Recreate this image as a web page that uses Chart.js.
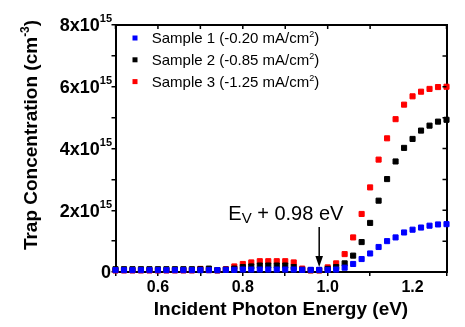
<!DOCTYPE html>
<html lang="en">
<head>
<meta charset="UTF-8">
<title>Trap Concentration vs Incident Photon Energy</title>
<script src="https://cdn.jsdelivr.net/npm/chart.js"></script>
<style>
  body { margin: 0; background: #fff; }
  #wrap { width: 465px; height: 327px; }
</style>
</head>
<body>
<div id="wrap"><canvas id="trapChart" width="465" height="327"></canvas></div>
<script>
// photon energy (eV) and trap concentration (units of 10^15 cm^-3)
const energies = [0.50, 0.52, 0.54, 0.56, 0.58, 0.60, 0.62, 0.64, 0.66, 0.68,
                  0.70, 0.72, 0.74, 0.76, 0.78, 0.80, 0.82, 0.84, 0.86, 0.88,
                  0.90, 0.92, 0.94, 0.96, 0.98, 1.00, 1.02, 1.04, 1.06, 1.08,
                  1.10, 1.12, 1.14, 1.16, 1.18, 1.20, 1.22, 1.24, 1.26, 1.28];
const sample1 = [0.06, 0.06, 0.06, 0.06, 0.06, 0.06, 0.06, 0.06, 0.06, 0.06,
                 0.06, 0.06, 0.06, 0.07, 0.07, 0.08, 0.08, 0.08, 0.08, 0.08,
                 0.08, 0.08, 0.07, 0.07, 0.07, 0.07, 0.08, 0.14, 0.26, 0.42,
                 0.60, 0.81, 1.00, 1.12, 1.28, 1.37, 1.44, 1.50, 1.54, 1.55];
const sample2 = [0.09, 0.09, 0.09, 0.09, 0.09, 0.09, 0.09, 0.09, 0.09, 0.09,
                 0.09, 0.11, 0.06, 0.08, 0.11, 0.16, 0.18, 0.21, 0.21, 0.21,
                 0.21, 0.16, 0.07, 0.06, 0.06, 0.10, 0.16, 0.28, 0.53, 0.97,
                 1.59, 2.31, 3.01, 3.58, 4.02, 4.31, 4.58, 4.74, 4.87, 4.93];
const sample3 = [0.05, 0.05, 0.05, 0.05, 0.05, 0.05, 0.05, 0.05, 0.05, 0.05,
                 0.10, 0.06, 0.05, 0.09, 0.18, 0.26, 0.31, 0.35, 0.35, 0.35,
                 0.35, 0.31, 0.11, 0.05, 0.05, 0.15, 0.28, 0.58, 1.12, 1.88,
                 2.74, 3.64, 4.33, 4.95, 5.42, 5.69, 5.84, 5.93, 5.99, 6.00];
const sampleLabels = ['Sample 1 (-0.20 mA/cm²)', 'Sample 2 (-0.85 mA/cm²)', 'Sample 3 (-1.25 mA/cm²)'];
const sampleColors = ['#0000ff', '#000000', '#ff0000'];
const yTickValues = [0, 2, 4, 6, 8];
const xTickValues = [0.6, 0.8, 1.0, 1.2];
const xTickLabels = ['0.6', '0.8', '1.0', '1.2'];
const markerEnergy = 0.98;

const FONT = '"Liberation Sans", Arial, sans-serif';

function toPoints(ys) {
  return energies.map((e, i) => ({ x: e, y: ys[i] }));
}

// text made of runs, each with its own size and vertical shift (for super/subscripts)
function runsWidth(ctx, runs, weight) {
  let w = 0;
  runs.forEach(r => {
    ctx.font = `${weight} ${r.size}px ${FONT}`;
    w += ctx.measureText(r.text).width;
  });
  return w;
}
function drawRuns(ctx, runs, x, y, weight, align) {
  const w = runsWidth(ctx, runs, weight);
  let cx = align === 'right' ? x - w : align === 'center' ? x - w / 2 : x;
  ctx.textAlign = 'left';
  ctx.textBaseline = 'alphabetic';
  runs.forEach(r => {
    ctx.font = `${weight} ${r.size}px ${FONT}`;
    ctx.fillText(r.text, cx, y + (r.dy || 0));
    cx += ctx.measureText(r.text).width;
  });
}

const decorations = {
  id: 'decorations',
  afterDraw(chart) {
    const ctx = chart.ctx;
    const xs = chart.scales.x, ys = chart.scales.y;
    const area = chart.chartArea;
    ctx.save();
    ctx.fillStyle = '#000';
    ctx.strokeStyle = '#000';

    // inward ticks on top and right frame
    ctx.lineWidth = 1.5;
    ctx.beginPath();
    xs.ticks.forEach(t => {
      const px = xs.getPixelForValue(t.value);
      ctx.moveTo(px, area.top);
      ctx.lineTo(px, area.top + 4);
    });
    ys.ticks.forEach(t => {
      const py = ys.getPixelForValue(t.value);
      ctx.moveTo(area.right, py);
      ctx.lineTo(area.right - 4, py);
    });
    ctx.stroke();

    // y tick labels: n x 10^15
    yTickValues.forEach(v => {
      const py = ys.getPixelForValue(v) + 6.4;
      if (v === 0) {
        drawRuns(ctx, [{ text: '0', size: 18 }], 111, py, 'bold', 'right');
      } else {
        drawRuns(ctx, [{ text: v + 'x10', size: 18 }, { text: '15', size: 11, dy: -9 }], 112, py, 'bold', 'right');
      }
    });

    // x tick labels
    xTickValues.forEach((v, i) => {
      drawRuns(ctx, [{ text: xTickLabels[i], size: 16 }], xs.getPixelForValue(v), 291.5, 'bold', 'center');
    });

    // axis titles
    drawRuns(ctx, [{ text: 'Incident Photon Energy (eV)', size: 19 }], (area.left + area.right) / 2, 315, 'bold', 'center');
    ctx.save();
    ctx.translate(36.7, 135);
    ctx.rotate(-Math.PI / 2);
    drawRuns(ctx, [{ text: 'Trap Concentration (cm', size: 19 }, { text: '-3', size: 12, dy: -8 }, { text: ')', size: 19 }], 0, 0, 'bold', 'center');
    ctx.restore();

    // legend
    sampleLabels.forEach((lab, i) => {
      const rowY = 38 + i * 21.8;
      ctx.fillStyle = sampleColors[i];
      ctx.fillRect(132.5, rowY - 2.5, 5, 5);
      ctx.fillStyle = '#000';
      const parts = lab.split('²');
      drawRuns(ctx, [{ text: parts[0], size: 15 }, { text: '2', size: 9, dy: -6 }, { text: parts[1], size: 15 }], 151.7, rowY + 5.4, 'normal', 'left');
    });

    // E_V + 0.98 eV marker
    const ax = xs.getPixelForValue(markerEnergy);
    drawRuns(ctx, [{ text: 'E', size: 20 }, { text: 'V', size: 15, dy: 3.5 }, { text: ' + 0.98 eV', size: 20 }], 228.3, 219.5, 'normal', 'left');
    ctx.lineWidth = 1.5;
    ctx.beginPath();
    ctx.moveTo(ax, 227);
    ctx.lineTo(ax, 258);
    ctx.stroke();
    ctx.beginPath();
    ctx.moveTo(ax - 3.8, 256);
    ctx.lineTo(ax + 3.8, 256);
    ctx.lineTo(ax, 267);
    ctx.closePath();
    ctx.fill();

    ctx.restore();
  }
};

const seriesData = [sample1, sample2, sample3];
const datasets = seriesData.map((ys, i) => ({
  label: sampleLabels[i],
  data: toPoints(ys),
  showLine: false,
  pointStyle: 'rect',
  pointRadius: 3.6,
  pointHoverRadius: 3.6,
  pointBorderWidth: 1,
  backgroundColor: sampleColors[i],
  borderColor: sampleColors[i],
  clip: false
}));

const tickGrid = { drawOnChartArea: false, tickLength: 4, color: '#000', lineWidth: 1.5 };
const frameBorder = { display: true, color: '#000', width: 2 };

new Chart(document.getElementById('trapChart').getContext('2d'), {
  type: 'scatter',
  data: { datasets },
  options: {
    responsive: false,
    maintainAspectRatio: false,
    devicePixelRatio: 1,
    animation: false,
    events: [],
    layout: { padding: { left: 111.5, right: 10.5, top: 17, bottom: 51 } },
    plugins: { legend: { display: false }, tooltip: { enabled: false } },
    scales: {
      x: {
        type: 'linear', position: 'bottom', min: 0.5, max: 1.28,
        ticks: { display: false, stepSize: 0.1 },
        grid: tickGrid, border: frameBorder
      },
      x2: {
        type: 'linear', position: 'top', min: 0.5, max: 1.28,
        ticks: { display: false, stepSize: 0.1 },
        grid: { display: false }, border: frameBorder
      },
      y: {
        type: 'linear', position: 'left', min: 0, max: 8,
        ticks: { display: false, stepSize: 1 },
        grid: tickGrid, border: frameBorder
      },
      y2: {
        type: 'linear', position: 'right', min: 0, max: 8,
        ticks: { display: false, stepSize: 1 },
        grid: { display: false }, border: frameBorder
      }
    }
  },
  plugins: [decorations]
});
</script>
</body>
</html>
